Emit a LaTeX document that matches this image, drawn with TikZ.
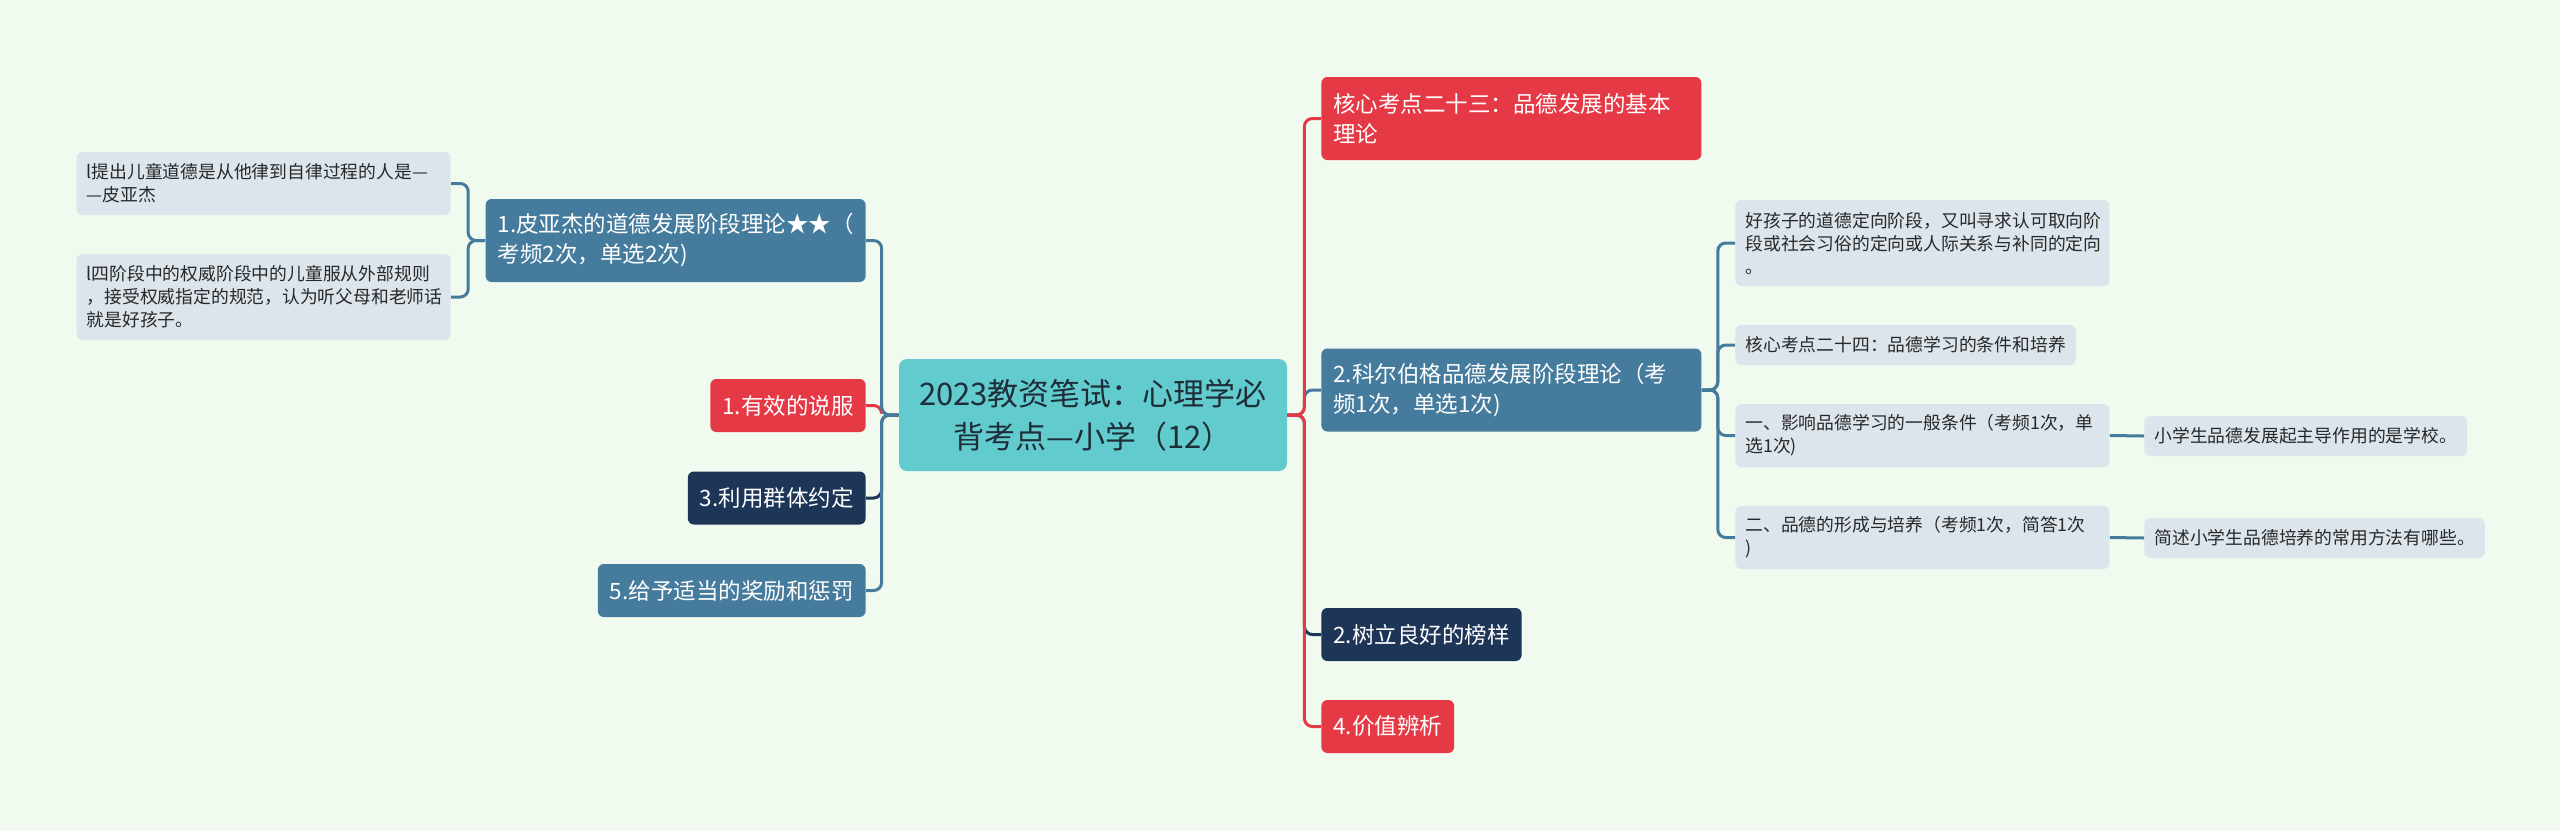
\documentclass[tikz,border=0pt]{standalone}
\usepackage{fontspec}
\setmainfont{Noto Sans CJK SC}
\usetikzlibrary{positioning}
\definecolor{bgmint}{RGB}{241,250,238}
\definecolor{alert}{RGB}{230,57,70}
\definecolor{steel}{RGB}{69,123,157}
\definecolor{navy}{RGB}{29,53,87}
\definecolor{topicteal}{RGB}{98,203,206}
\definecolor{leafgray}{RGB}{220,229,236}
\definecolor{rootink}{RGB}{30,45,55}
\definecolor{leafink}{RGB}{40,40,40}

\begin{document}
\begin{tikzpicture}[
  x=0.5pt, y=-0.5pt,
  every node/.style={rounded corners=3pt, inner ysep=0pt},
  topic/.style={fill=topicteal, text=rootink, font=\fontsize{15.5pt}{21.5pt}\selectfont, minimum width=194pt, minimum height=56pt, align=center, rounded corners=4pt},
  branch/.style={text=white, font=\fontsize{11.25pt}{15pt}\selectfont, minimum height=26.5pt, inner xsep=6pt},
  twoline/.style={text width=178pt, align=left, minimum height=41.5pt},
  leaf/.style={fill=leafgray, text=leafink, font=\fontsize{8.9pt}{11.5pt}\selectfont, inner xsep=5pt, minimum height=20pt},
  leafwide/.style={text width=177pt, align=left},
  link/.style={line width=1.5pt, rounded corners=4pt}
]
\fill[bgmint] (0,0) rectangle (2560,831);

\node[topic] (root) at (1093,415) {2023教资笔试：心理学必\\背考点—小学（12）};

\node[branch, twoline, fill=steel, anchor=east] (pia) at (866,240.5) {1.皮亚杰的道德发展阶段理论★★（\\考频2次，单选2次)};
\node[branch, fill=alert, anchor=east] (per) at (866,405.5) {1.有效的说服};
\node[branch, fill=navy, anchor=east] (grp) at (866,498) {3.利用群体约定};
\node[branch, fill=steel, anchor=east] (rew) at (866,590.5) {5.给予适当的奖励和惩罚};
\node[leaf, leafwide, minimum height=31.5pt, anchor=east] (lf1) at (451,183.5) {l提出儿童道德是从他律到自律过程的人是—\\—皮亚杰};
\node[leaf, leafwide, minimum height=43pt, anchor=east] (lf2) at (451,297) {l四阶段中的权威阶段中的儿童服从外部规则\\，接受权威指定的规范，认为听父母和老师话\\就是好孩子。};

\node[branch, twoline, fill=alert, anchor=west] (c23) at (1321,118.5) {核心考点二十三：品德发展的基本\\理论};
\node[branch, twoline, fill=steel, anchor=west] (kol) at (1321,390) {2.科尔伯格品德发展阶段理论（考\\频1次，单选1次)};
\node[branch, fill=navy, anchor=west] (mod) at (1321,634.5) {2.树立良好的榜样};
\node[branch, fill=alert, anchor=west] (val) at (1321,726.5) {4.价值辨析};
\node[leaf, leafwide, minimum height=43pt, anchor=west] (gd) at (1735,243) {好孩子的道德定向阶段，又叫寻求认可取向阶\\段或社会习俗的定向或人际关系与补同的定向\\。};
\node[leaf, anchor=west] (c24) at (1735,345) {核心考点二十四：品德学习的条件和培养};
\node[leaf, leafwide, minimum height=31.5pt, anchor=west] (gen) at (1735,435.5) {一、影响品德学习的一般条件（考频1次，单\\选1次)};
\node[leaf, leafwide, minimum height=31.5pt, anchor=west] (frm) at (1735,537.5) {二、品德的形成与培养（考频1次，简答1次\\)};
\node[leaf, anchor=west] (sch) at (2144,436) {小学生品德发展起主导作用的是学校。};
\node[leaf, anchor=west] (mth) at (2144,538) {简述小学生品德培养的常用方法有哪些。};

\foreach \n/\c in {per/alert, grp/navy, pia/steel, rew/steel}
  \draw[link, draw=\c] (root.west) -- ++(-17,0) |- (\n.east);
\foreach \n/\c in {kol/steel, mod/navy, c23/alert, val/alert}
  \draw[link, draw=\c] (root.east) -- ++(17,0) |- (\n.west);
\foreach \n in {lf1, lf2}
  \draw[link, draw=steel] (pia.west) -- ++(-17,0) |- (\n.east);
\foreach \n in {gd, c24, gen, frm}
  \draw[link, draw=steel] (kol.east) -- ++(16,0) |- (\n.west);
\draw[link, draw=steel] (gen.east) -- (sch.west);
\draw[link, draw=steel] (frm.east) -- (mth.west);
\end{tikzpicture}
\end{document}
